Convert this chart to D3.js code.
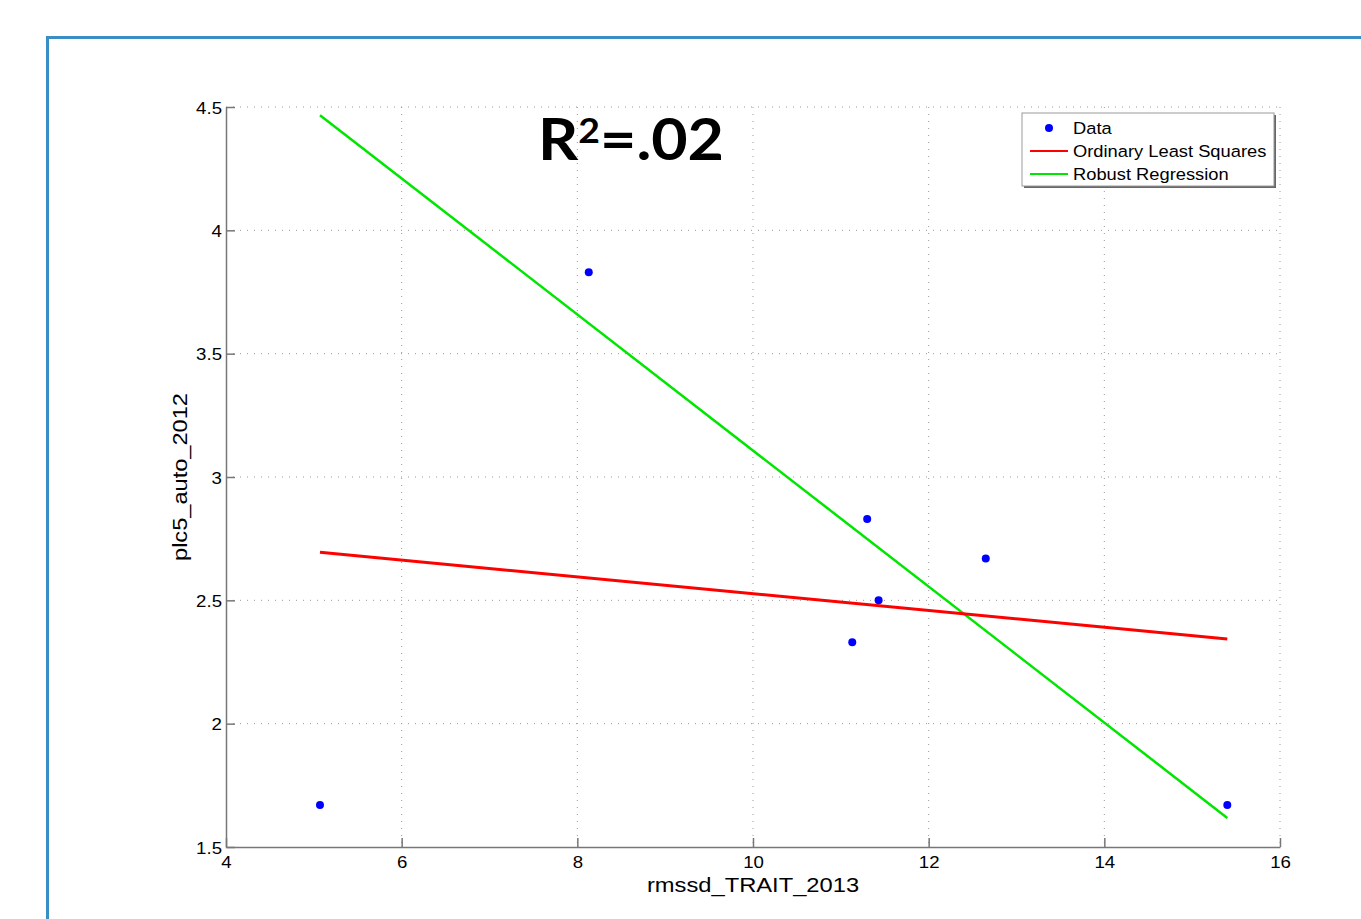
<!DOCTYPE html>
<html><head><meta charset="utf-8">
<script src="https://cdn.jsdelivr.net/npm/d3@7"></script>
<style>body{margin:0;background:#fff;} svg{display:block;}</style>
</head><body>
<svg id="c" width="1361" height="919"></svg>
<script>
const xData = [5.07, 8.13, 11.30, 11.13, 11.43, 12.65, 15.40];
const yData = [1.67, 3.83, 2.83, 2.33, 2.50, 2.67, 1.67];
const olsX = [5.07, 15.40];
const olsY = [2.695, 2.343];
const robustX = [5.07, 15.40];
const robustY = [4.467, 1.618];
const xTicks = [4, 6, 8, 10, 12, 14, 16];
const yTicks = [1.5, 2, 2.5, 3, 3.5, 4, 4.5];
const legendLabels = ["Data", "Ordinary Least Squares", "Robust Regression"];

const SX = 1.13;
const FONT = "Liberation Sans, Arial, sans-serif";
const svg = d3.select("#c");
// slide frame
svg.append("rect").attr("x",47.5).attr("y",37.5).attr("width",1400).attr("height",1000)
  .attr("fill","none").attr("stroke","#3a8ec6").attr("stroke-width",3);

const x = d3.scaleLinear().domain([4,16]).range([226,1280]);
const y = d3.scaleLinear().domain([1.5,4.5]).range([847,107]);

// grid
const g = svg.append("g");
g.selectAll(".vg").data(xTicks.slice(1)).join("line")
  .attr("x1",d=>x(d)).attr("x2",d=>x(d)).attr("y1",y(4.5)).attr("y2",y(1.5))
  .attr("stroke","#999").attr("stroke-width",1).attr("stroke-dasharray","1,6");
g.selectAll(".hg").data(yTicks.slice(1)).join("line")
  .attr("y1",d=>y(d)).attr("y2",d=>y(d)).attr("x1",x(4)).attr("x2",x(16))
  .attr("stroke","#999").attr("stroke-width",1).attr("stroke-dasharray","1,6");

// axes
const xAxis = d3.axisBottom(x).tickValues(xTicks).tickFormat(d3.format("d")).tickSizeInner(-9).tickSizeOuter(0).tickPadding(0);
const yAxis = d3.axisLeft(y).tickValues(yTicks).tickFormat(d=>String(d)).tickSizeInner(-9).tickSizeOuter(0).tickPadding(0);
const gx = svg.append("g").attr("transform",`translate(0,${y(1.5)})`).call(xAxis);
const gy = svg.append("g").attr("transform",`translate(${x(4)},0)`).call(yAxis);
[gx,gy].forEach(a=>{
  a.attr("font-size",null).attr("font-family",null);
  a.selectAll("path,line").attr("stroke","#777").attr("stroke-width",1.5);
  a.selectAll("text").attr("font-family",FONT).attr("font-size",16.5).attr("fill","#000");
});
gx.selectAll("text").attr("y",null).attr("dy",null).attr("transform",`translate(0,21) scale(${SX},1)`);
gy.selectAll("text").attr("x",null).attr("dy",null).attr("transform",`translate(-4,6) scale(${SX},1)`);

// axis labels
svg.append("text").attr("transform",`translate(${x(10)},892) scale(${SX},1)`).attr("text-anchor","middle")
  .attr("font-family",FONT).attr("font-size",21).text("rmssd_TRAIT_2013");
svg.append("text").attr("transform",`translate(187,${y(3)}) rotate(-90)`).attr("text-anchor","middle")
  .attr("font-family",FONT).attr("font-size",21).attr("textLength",168).attr("lengthAdjust","spacingAndGlyphs").text("plc5_auto_2012");

// lines
const line = d3.line().x(d=>x(d[0])).y(d=>y(d[1]));
svg.append("path").datum(robustX.map((v,i)=>[v,robustY[i]])).attr("d",line)
  .attr("stroke","#00e600").attr("stroke-width",2.5).attr("fill","none");
svg.append("path").datum(olsX.map((v,i)=>[v,olsY[i]])).attr("d",line)
  .attr("stroke","#ff0000").attr("stroke-width",3).attr("fill","none");

// points
svg.selectAll(".pt").data(xData.map((v,i)=>[v,yData[i]])).join("circle")
  .attr("cx",d=>x(d[0])).attr("cy",d=>y(d[1])).attr("r",4).attr("fill","#0000ff");

// R^2 text
const rt = svg.append("text").attr("transform",`translate(538,160) scale(1.1,1)`)
  .attr("font-family","Lato, 'Open Sans', sans-serif").attr("font-weight","bold").attr("font-size",57).attr("fill","#000");
rt.append("tspan").text("R");
rt.append("tspan").attr("font-size",34).attr("dy",-17).text("2");
rt.append("tspan").attr("dy",17).text("=.02");

// legend
const lg = svg.append("g");
lg.append("rect").attr("x",1024).attr("y",115).attr("width",252).attr("height",73).attr("fill","#666");
lg.append("rect").attr("x",1022).attr("y",113).attr("width",252).attr("height",73).attr("fill","#fff").attr("stroke","#999").attr("stroke-width",1);
const ly = [128, 151, 174];
lg.append("circle").attr("cx",1049).attr("cy",ly[0]).attr("r",4).attr("fill","#0000ff");
lg.append("line").attr("x1",1030).attr("x2",1068).attr("y1",ly[1]).attr("y2",ly[1]).attr("stroke","#ff0000").attr("stroke-width",2);
lg.append("line").attr("x1",1030).attr("x2",1068).attr("y1",ly[2]).attr("y2",ly[2]).attr("stroke","#00e600").attr("stroke-width",2);
lg.selectAll(".lt").data(legendLabels).join("text").attr("transform",(d,i)=>`translate(1073,${ly[i]+6}) scale(1.11,1)`)
  .attr("font-family",FONT).attr("font-size",16.5).text(d=>d);
</script>
</body></html>
